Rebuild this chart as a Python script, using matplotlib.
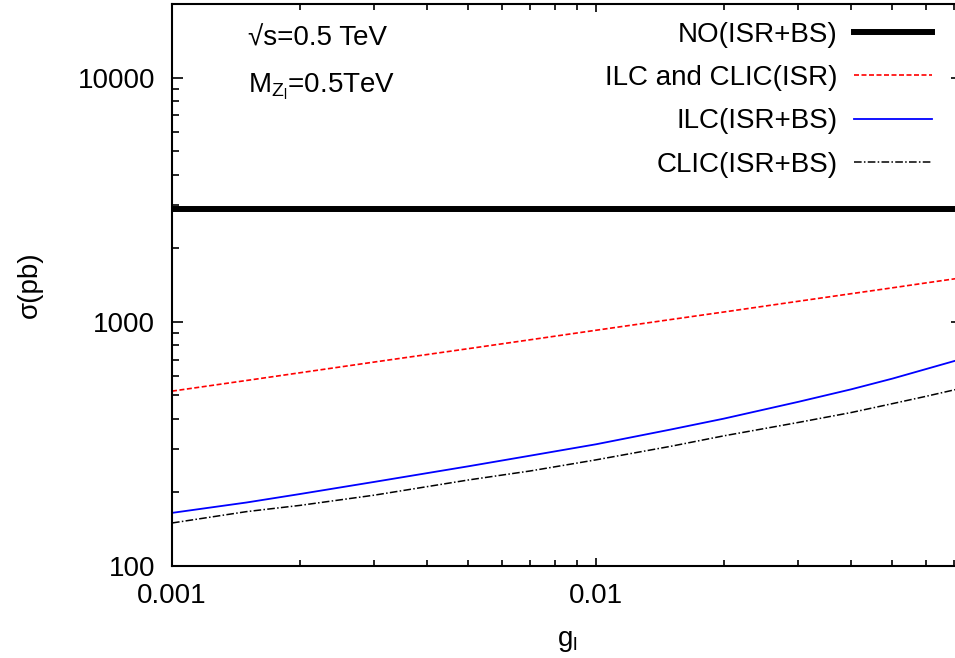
import matplotlib
matplotlib.use("Agg")
import matplotlib.pyplot as plt

plt.rcParams['font.family'] = ['Liberation Sans', 'DejaVu Sans']
plt.rcParams['mathtext.default'] = 'regular'

g_l = [0.001, 0.0015, 0.002, 0.003, 0.005, 0.007, 0.01, 0.015, 0.02, 0.03, 0.04, 0.05, 0.06, 0.073]
no_isr_bs = [2900] * len(g_l)
ilc_clic_isr = [520, 575, 618, 684, 776, 844, 923, 1021, 1096, 1213, 1303, 1377, 1442, 1514]
ilc_isr_bs = [165, 182, 197, 221, 256, 283, 315, 362, 401, 470, 529, 585, 640, 705]
clic_isr_bs = [150, 167, 177, 195, 225, 245, 272, 309, 341, 387, 425, 462, 495, 535]

fig = plt.figure(figsize=(9.55, 6.58), dpi=100)
ax = fig.add_axes([172/955, 1-566/658, (962-172)/955, (566-4)/658])

ax.plot(g_l, no_isr_bs, color='black', lw=4.3, label='NO(ISR+BS)')
ax.plot(g_l, ilc_clic_isr, color='red', lw=1.2, ls=(0, (3, 1.5)), label='ILC and CLIC(ISR)')
ax.plot(g_l, ilc_isr_bs, color='blue', lw=1.3, label='ILC(ISR+BS)')
ax.plot(g_l, clic_isr_bs, color='black', lw=1.1, ls=(0, (5, 1.5, 1, 1.5)), label='CLIC(ISR+BS)')

ax.set_xscale('log')
ax.set_yscale('log')
ax.set_xlim(0.001, 0.073)
ax.set_ylim(100, 20000)
ax.set_xticks([0.001, 0.01])
ax.set_xticklabels(['0.001', '0.01'])
ax.set_yticks([100, 1000, 10000])
ax.set_yticklabels(['100', '1000', '10000'])

ax.tick_params(which='both', direction='in', top=True, right=True, labelsize=20, width=1.2)
ax.tick_params(axis='y', which='major', length=8, pad=12)
ax.tick_params(axis='y', which='minor', length=5)
ax.tick_params(axis='x', which='major', length=6, pad=12)
ax.tick_params(axis='x', which='minor', length=4)
for s in ax.spines.values():
    s.set_linewidth(1.5)

ax.set_xlabel('g$_{l}$', fontsize=20, labelpad=14)
ax.set_ylabel('σ(pb)', fontsize=20, labelpad=25)

ax.text(0.096, 0.926, '√s=0.5 TeV', transform=ax.transAxes, fontsize=20, va='baseline')
ax.text(0.096, 0.842, 'M$_{Z_{l}}$=0.5TeV', transform=ax.transAxes, fontsize=20, va='baseline')

ax.legend(loc='upper right', bbox_to_anchor=(932/955, 1-22/658), bbox_transform=fig.transFigure,
          frameon=False, markerfirst=False, fontsize=20, handlelength=2.8,
          handletextpad=0.6, labelspacing=0.62, borderpad=0, borderaxespad=0)

fig.savefig('out.png', dpi=100)
